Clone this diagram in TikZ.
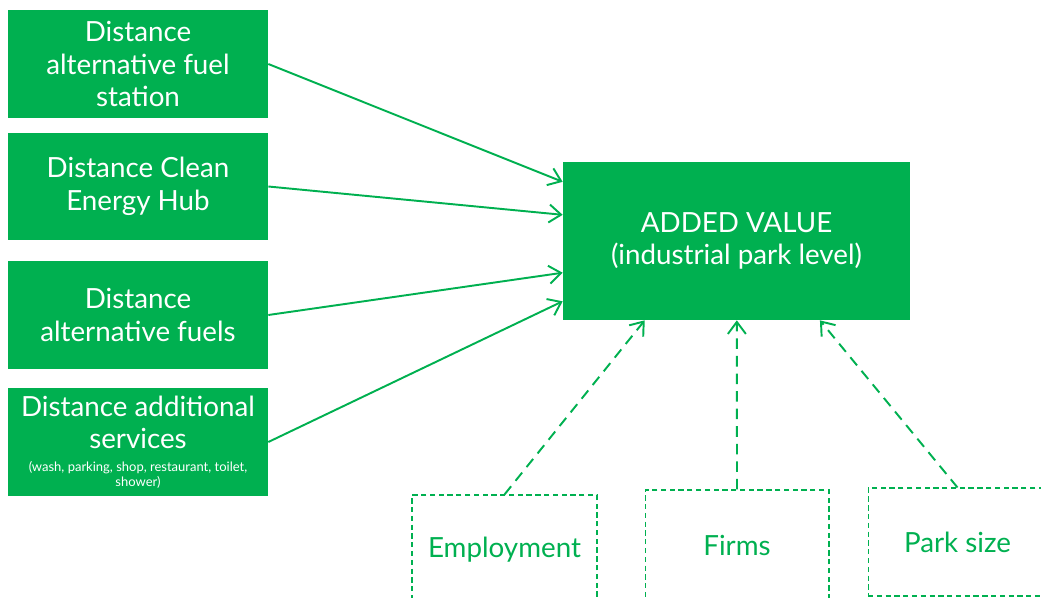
\documentclass[tikz,border=0pt]{standalone}
\usepackage{fontspec}
\setmainfont{Lato}
\usetikzlibrary{arrows.meta,calc}
\definecolor{parkgreen}{HTML}{00B050}
\newcommand{\smalltxt}{\fontsize{7.4}{8.5}\selectfont}
\tikzset{
  factor/.style={fill=parkgreen, text=white, align=center, inner sep=0pt,
    minimum width=5.2cm, minimum height=2.16cm,
    font=\fontsize{15.8}{18.7}\selectfont},
  control/.style={draw=parkgreen, dash pattern=on 3pt off 2pt, line width=0.6pt,
    text=parkgreen, align=center, inner sep=0pt,
    font=\fontsize{15.8}{18.7}\selectfont},
  link/.style={draw=parkgreen, line width=1.1pt, -{Straight Barb[length=2.4mm,width=3.6mm]}},
}
\begin{document}
\begin{tikzpicture}[x=0.02cm, y=-0.02cm]
  \useasboundingbox (0,0) rectangle (1041,598);
  % explanatory factors on the left
  \node[factor] (fuelstation) at (138,64) {Distance\\alternative fuel\\station};
  \node[factor] (hub) at (138,186.5) {Distance Clean\\Energy Hub};
  \node[factor] (fuels) at (138,315) {Distance\\alternative fuels};
  \node[factor] (services) at (138,442) {Distance additional\\services\\[-6pt]
    \smalltxt (wash, parking, shop, restaurant, toilet,\\[-10pt]\smalltxt shower)};
  % outcome
  \node[factor, minimum width=6.94cm, minimum height=3.16cm] (value) at (736.5,241)
    {ADDED VALUE\\(industrial park level)};
  % control variables
  \node[control, minimum width=3.7cm, minimum height=2.2cm] (employment) at (504.5,550) {Employment};
  \node[control, minimum width=3.68cm, minimum height=2.2cm] (firms) at (737,545) {Firms};
  \node[control, minimum width=3.58cm, minimum height=2.16cm] (parksize) at (957.5,542) {Park size};
  \begin{scope}[link]
    \draw (fuelstation.east) -- ($(value.north west)!0.127!(value.south west)$);
    \draw (hub.east) -- ($(value.north west)!0.335!(value.south west)$);
    \draw (fuels.east) -- ($(value.north west)!0.70!(value.south west)$);
    \draw (services.east) -- ($(value.north west)!0.88!(value.south west)$);
  \end{scope}
  \begin{scope}[link, dash pattern=on 6pt off 4pt]
    \draw (employment.north) -- ($(value.south west)!0.236!(value.south east)$);
    \draw (firms.north) -- ($(value.south west)!0.501!(value.south east)$);
    \draw (parksize.north) -- ($(value.south west)!0.74!(value.south east)$);
  \end{scope}
\end{tikzpicture}
\end{document}
